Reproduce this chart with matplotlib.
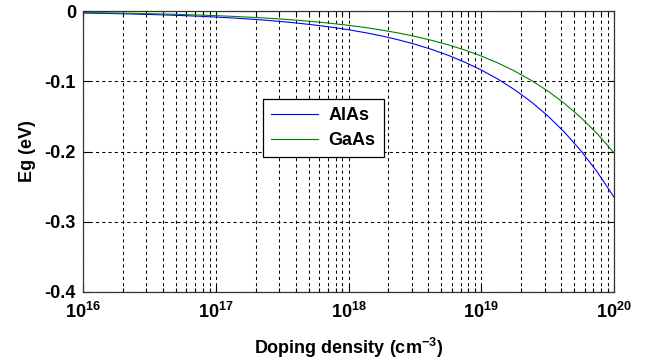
import matplotlib
matplotlib.use("Agg")
import matplotlib.pyplot as plt
from matplotlib.ticker import LogLocator, FixedFormatter, FixedLocator, NullFormatter

plt.rcParams["font.family"] = ["Liberation Sans", "DejaVu Sans"]
plt.rcParams["mathtext.fontset"] = "custom"
plt.rcParams["mathtext.bf"] = "Liberation Sans:bold"
plt.rcParams["mathtext.rm"] = "Liberation Sans"

# doping density (cm^-3), sampled every eighth of a decade
doping = [1e16, 1.334e16, 1.778e16, 2.371e16, 3.162e16, 4.217e16, 5.623e16, 7.499e16,
          1e17, 1.334e17, 1.778e17, 2.371e17, 3.162e17, 4.217e17, 5.623e17, 7.499e17,
          1e18, 1.334e18, 1.778e18, 2.371e18, 3.162e18, 4.217e18, 5.623e18, 7.499e18,
          1e19, 1.334e19, 1.778e19, 2.371e19, 3.162e19, 4.217e19, 5.623e19, 7.499e19,
          1e20]
eg_alas = [-0.00265, -0.00306, -0.00353, -0.00408, -0.00471, -0.00544, -0.00628, -0.00726,
           -0.00838, -0.00968, -0.01118, -0.01290, -0.01490, -0.01721, -0.01987, -0.02295,
           -0.0265, -0.0306, -0.0353, -0.0408, -0.0471, -0.0544, -0.0628, -0.0726,
           -0.0838, -0.0968, -0.1118, -0.1290, -0.1490, -0.1721, -0.1987, -0.2295,
           -0.265]
eg_gaas = [-0.00202, -0.00233, -0.00269, -0.00311, -0.00359, -0.00415, -0.00479, -0.00553,
           -0.00639, -0.00738, -0.00852, -0.00984, -0.01136, -0.01312, -0.01515, -0.01749,
           -0.0202, -0.0233, -0.0269, -0.0311, -0.0359, -0.0415, -0.0479, -0.0553,
           -0.0639, -0.0738, -0.0852, -0.0984, -0.1136, -0.1312, -0.1515, -0.1749,
           -0.202]

xticks = [1e16, 1e17, 1e18, 1e19, 1e20]
xticklabels = [r"$\mathbf{10^{16}}$", r"$\mathbf{10^{17}}$", r"$\mathbf{10^{18}}$",
               r"$\mathbf{10^{19}}$", r"$\mathbf{10^{20}}$"]
yticks = [-0.4, -0.3, -0.2, -0.1, 0]
yticklabels = ["-0.4", "-0.3", "-0.2", "-0.1", "0"]

fig = plt.figure(figsize=(6.45, 3.6), dpi=100)
ax = fig.add_axes([0.1287, 0.189, 0.8233, 0.780])

ax.plot(doping, eg_alas, color="#0000FF", lw=0.8, label="AlAs")
ax.plot(doping, eg_gaas, color="#008000", lw=0.8, label="GaAs")

ax.set_xscale("log")
ax.set_xlim(1e16, 1e20)
ax.set_ylim(-0.4, 0)

ax.xaxis.set_major_locator(FixedLocator(xticks))
ax.xaxis.set_major_formatter(FixedFormatter(xticklabels))
ax.xaxis.set_minor_locator(LogLocator(base=10, subs=range(2, 10), numticks=20))
ax.xaxis.set_minor_formatter(NullFormatter())
ax.set_yticks(yticks)
ax.set_yticklabels(yticklabels)

grid_kw = dict(color="black", linestyle=(0, (3, 3)), linewidth=0.75)
ax.grid(True, which="major", axis="both", **grid_kw)
ax.grid(True, which="minor", axis="x", **grid_kw)

ax.tick_params(which="both", direction="in", top=True, right=True,
               labelsize=13, width=0.8, color="black")
ax.tick_params(which="major", length=5)
ax.tick_params(which="minor", length=3)
ax.tick_params(axis="x", pad=7)
ax.tick_params(axis="y", pad=5)
for lab in ax.get_yticklabels():
    lab.set_fontweight("bold")
for sp in ax.spines.values():
    sp.set_linewidth(0.9)
    sp.set_color("#333333")

ax.set_xlabel(r"Doping density (cm$^{\mathbf{-3}}$)", fontsize=13, fontweight="bold", labelpad=10)
ax.set_ylabel("Eg (eV)", fontsize=13, fontweight="bold", labelpad=6)

leg = ax.legend(loc="center", bbox_to_anchor=(0.452, 0.584), fancybox=False,
                framealpha=1, edgecolor="black", prop={"weight": "bold", "size": 13},
                handlelength=2.6, borderpad=0.45, labelspacing=0.45, handletextpad=0.6)
leg.get_frame().set_linewidth(0.9)

fig.savefig("out.png", dpi=100)
